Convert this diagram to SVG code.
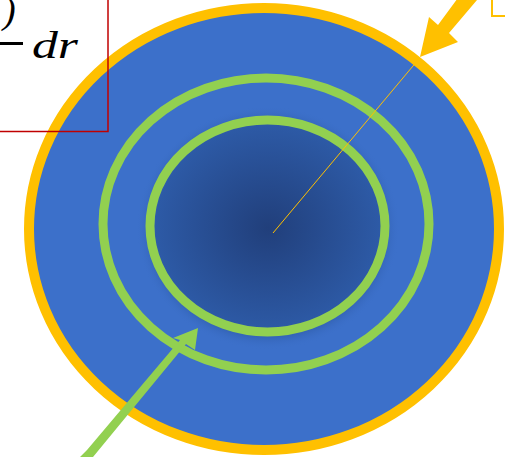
<svg xmlns="http://www.w3.org/2000/svg" width="505" height="457" viewBox="0 0 505 457">
<defs>
<radialGradient id="core" cx="0.5" cy="0.5" r="0.5">
<stop offset="0" stop-color="#213f7b"/>
<stop offset="0.85" stop-color="#2d5aa6"/>
<stop offset="1" stop-color="#3c70ca" stop-opacity="0"/>
</radialGradient>
<style>
.ring{fill:none;stroke:#92d050;stroke-width:9}
.math{font-family:"Liberation Serif",serif;font-style:italic;font-size:38px;fill:#000}
</style>
</defs>
<rect width="505" height="457" fill="#fff"/>
<g id="outer">
<ellipse cx="264" cy="229" rx="235" ry="221" fill="#3c70ca" stroke="#ffc000" stroke-width="10"/>
</g>
<g id="core-region">
<ellipse cx="268" cy="228" rx="132" ry="122" fill="url(#core)"/>
</g>
<g id="ring-outer">
<ellipse class="ring" cx="266" cy="224" rx="163" ry="146"/>
</g>
<g id="ring-inner">
<ellipse class="ring" cx="267.5" cy="226" rx="117.5" ry="106"/>
</g>
<g id="label-box">
<rect x="492" y="-5" width="20" height="21" fill="none" stroke="#ffc000" stroke-width="2"/>
</g>
<g id="formula">
<rect x="-5" y="-5" width="113" height="136.5" fill="none" stroke="#c00000" stroke-width="1.5"/>
<text class="math" x="3" y="23" font-style="normal" font-size="40">)</text>
<line x1="0" y1="43.5" x2="23" y2="43.5" stroke="#000" stroke-width="3"/>
<text class="math" x="32" y="58" textLength="46" lengthAdjust="spacingAndGlyphs">dr</text>
</g>
<g id="connectors">
<line x1="273" y1="233" x2="418" y2="60" stroke="#ffc000" stroke-width="1"/>
<polygon points="451,0 477,0 449,33 458,42 420,57 429,17 438,25 466,-13" fill="#ffc000"/>
<polygon points="80,457 93,457 186,344 195,350 198,328 173,338 180,340 87,450" fill="#92d050"/>
</g>
</svg>
